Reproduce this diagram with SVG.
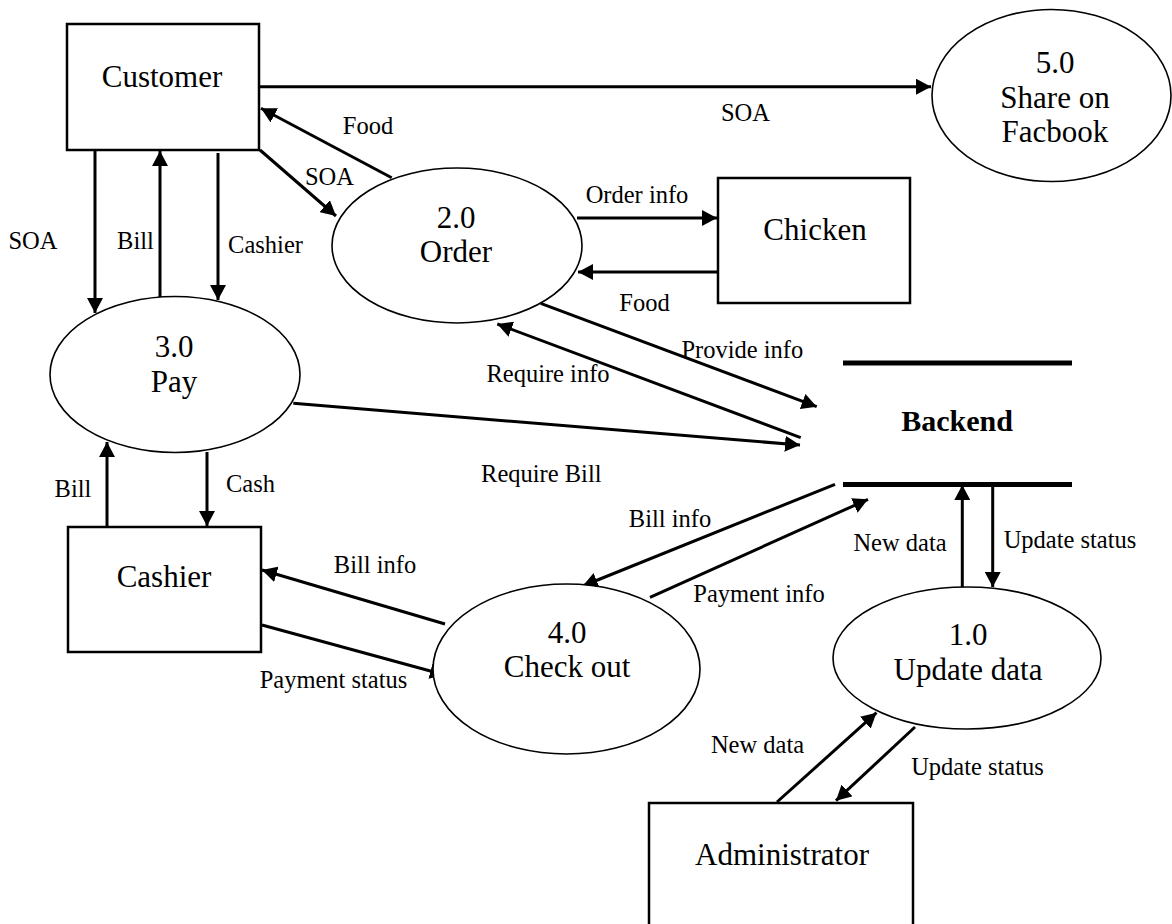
<svg xmlns="http://www.w3.org/2000/svg" width="1172" height="924" viewBox="0 0 1172 924">
<style>
  .box{fill:#fff;stroke:#000;stroke-width:2.5}
  .proc{fill:#fff;stroke:#000;stroke-width:1.6}
  .store{stroke:#000;stroke-width:5}
  .flow{fill:none;stroke:#000;stroke-width:3;marker-end:url(#ah)}
  .nt{font-family:"Liberation Serif","Times New Roman",serif;font-size:31px;fill:#000;text-anchor:middle}
  .lb{font-family:"Liberation Serif","Times New Roman",serif;font-size:24.5px;fill:#000;text-anchor:middle}
  .bk{font-family:"Liberation Serif","Times New Roman",serif;font-size:30px;font-weight:bold;fill:#000;text-anchor:middle}
</style>
<defs>
  <marker id="ah" markerUnits="userSpaceOnUse" viewBox="0 0 15 16" refX="15" refY="8" markerWidth="15" markerHeight="16" orient="auto">
    <path d="M0,0 L15,8 L0,16 z" fill="#000"/>
  </marker>
</defs>
<rect width="1172" height="924" fill="#fff"/>

<g id="connectors">
  <line class="flow" x1="259" y1="86.7" x2="931" y2="86.7"/>
  <line class="flow" x1="391.7" y1="177.7" x2="261" y2="108.3"/>
  <line class="flow" x1="260" y1="150" x2="336" y2="216"/>
  <line class="flow" x1="95" y1="150" x2="95" y2="313"/>
  <line class="flow" x1="160" y1="297" x2="160" y2="151"/>
  <line class="flow" x1="218" y1="153" x2="218" y2="300"/>
  <line class="flow" x1="577" y1="218" x2="717" y2="218"/>
  <line class="flow" x1="718" y1="272" x2="578" y2="272"/>
  <line class="flow" x1="540.7" y1="303.3" x2="816.7" y2="406.7"/>
  <line class="flow" x1="800.7" y1="437.7" x2="497.3" y2="324"/>
  <line class="flow" x1="293.3" y1="403.3" x2="800" y2="445"/>
  <line class="flow" x1="107" y1="527" x2="107" y2="442"/>
  <line class="flow" x1="207" y1="452" x2="207" y2="526"/>
  <line class="flow" x1="445" y1="624" x2="262" y2="570"/>
  <line class="flow" x1="262" y1="625" x2="445" y2="675"/>
  <line class="flow" x1="835" y1="484.3" x2="582.7" y2="586"/>
  <line class="flow" x1="650" y1="597.3" x2="868" y2="499.3"/>
  <line class="flow" x1="962.3" y1="587" x2="962.3" y2="485"/>
  <line class="flow" x1="992.7" y1="485" x2="992.7" y2="587"/>
  <line class="flow" x1="777" y1="802" x2="876.5" y2="712.7"/>
  <line class="flow" x1="915" y1="727" x2="836" y2="800.7"/>

  <text class="lb" x="745.5" y="121">SOA</text>
  <text class="lb" x="368" y="134">Food</text>
  <text class="lb" x="329.5" y="185">SOA</text>
  <text class="lb" x="33" y="249">SOA</text>
  <text class="lb" x="135.5" y="249">Bill</text>
  <text class="lb" x="265.5" y="253">Cashier</text>
  <text class="lb" x="637" y="203">Order info</text>
  <text class="lb" x="644.5" y="311">Food</text>
  <text class="lb" x="742.3" y="358">Provide info</text>
  <text class="lb" x="548" y="382">Require info</text>
  <text class="lb" x="541.3" y="481.7">Require Bill</text>
  <text class="lb" x="73" y="496.7">Bill</text>
  <text class="lb" x="250.5" y="492.3">Cash</text>
  <text class="lb" x="375" y="573">Bill info</text>
  <text class="lb" x="333.5" y="688">Payment status</text>
  <text class="lb" x="670" y="527">Bill info</text>
  <text class="lb" x="759" y="602">Payment info</text>
  <text class="lb" x="900" y="550.7">New data</text>
  <text class="lb" x="1070" y="548.3">Update status</text>
  <text class="lb" x="757.5" y="753">New data</text>
  <text class="lb" x="977.5" y="775">Update status</text>
</g>

<g id="customer">
  <rect class="box" x="67" y="24" width="192" height="126"/>
  <text class="nt" x="162" y="87">Customer</text>
</g>

<g id="share-facebook">
  <ellipse class="proc" cx="1051.5" cy="95.5" rx="119.5" ry="86"/>
  <text class="nt" x="1055" y="73">5.0</text>
  <text class="nt" x="1055" y="108">Share on</text>
  <text class="nt" x="1055" y="142">Facbook</text>
</g>

<g id="order">
  <ellipse class="proc" cx="457" cy="245.5" rx="125" ry="77.5"/>
  <text class="nt" x="456" y="228">2.0</text>
  <text class="nt" x="456" y="262">Order</text>
</g>

<g id="chicken">
  <rect class="box" x="718" y="178" width="192" height="125"/>
  <text class="nt" x="815" y="240">Chicken</text>
</g>

<g id="pay">
  <ellipse class="proc" cx="175" cy="374.5" rx="125" ry="78"/>
  <text class="nt" x="174" y="357">3.0</text>
  <text class="nt" x="174" y="392">Pay</text>
</g>

<g id="backend">
  <line class="store" x1="843" y1="363" x2="1072" y2="363"/>
  <line class="store" x1="843" y1="484.5" x2="1072" y2="484.5"/>
  <text class="bk" x="957" y="431">Backend</text>
</g>

<g id="cashier">
  <rect class="box" x="68" y="527" width="193" height="125"/>
  <text class="nt" x="164" y="587">Cashier</text>
</g>

<g id="checkout">
  <ellipse class="proc" cx="566.5" cy="669" rx="133.5" ry="85"/>
  <text class="nt" x="567" y="643">4.0</text>
  <text class="nt" x="567" y="677">Check out</text>
</g>

<g id="update-data">
  <ellipse class="proc" cx="967" cy="658" rx="134" ry="71"/>
  <text class="nt" x="968" y="645">1.0</text>
  <text class="nt" x="968" y="680">Update data</text>
</g>

<g id="administrator">
  <rect class="box" x="649" y="803" width="264" height="135"/>
  <text class="nt" x="782" y="865">Administrator</text>
</g>
</svg>
